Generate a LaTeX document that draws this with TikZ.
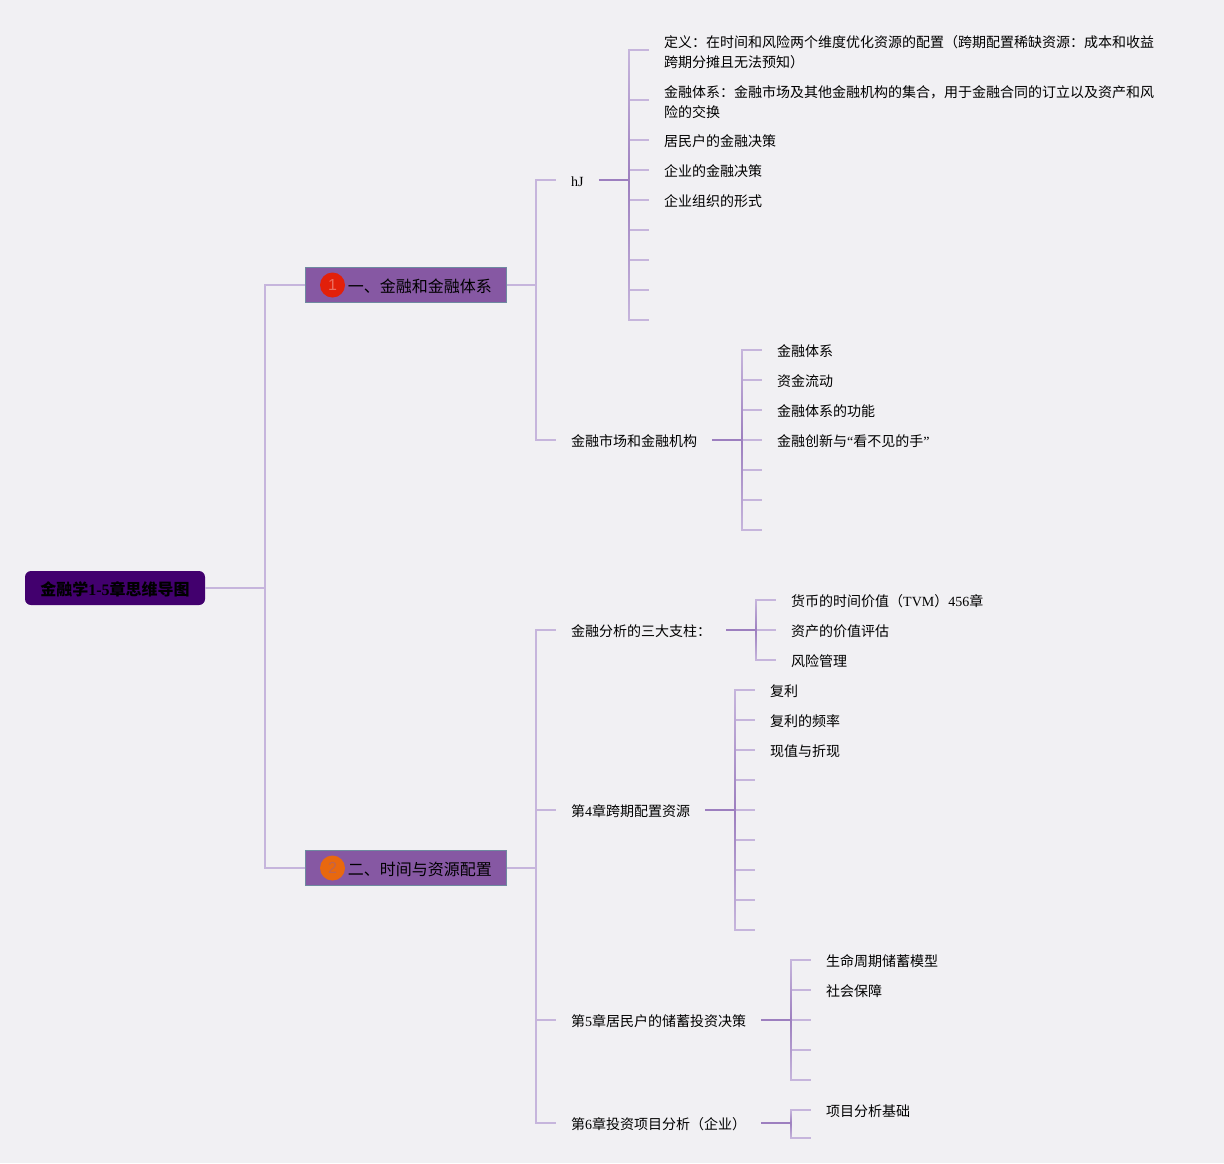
\documentclass[tikz,border=0pt]{standalone}
\usepackage{fontspec}
\setmainfont{Liberation Serif}
\setsansfont{Liberation Sans}
\newfontfamily\cj{Noto Sans CJK SC}
\newcommand{\lt}[1]{{\rmfamily #1}}
\definecolor{pagebg}{HTML}{F1F0F3}
\definecolor{lightline}{HTML}{C6B5DC}
\definecolor{darkline}{HTML}{9D7FBF}
\definecolor{rootfill}{HTML}{42006E}
\definecolor{boxfill}{HTML}{8658A3}
\definecolor{boxedge}{HTML}{6F8AA0}
\usetikzlibrary{calc}
\tikzset{
  x=1pt,y=-1pt,
  conn/.style={draw=lightline,line width=1.4pt},
  stem/.style={draw=darkline,line width=1.4pt},
  txt/.style={anchor=west,inner xsep=15pt,inner ysep=0pt,font=\fontsize{14}{20}\selectfont\cj,align=left,text=black,
    execute at begin node={\rule[-2pt]{0pt}{16pt}}},
  rootbox/.style={anchor=center,fill=rootfill,rounded corners=6pt,minimum width=180pt,minimum height=34pt,inner sep=0pt,font=\fontsize{16}{18}\selectfont\cj\bfseries,
    execute at begin node={\rule[-2pt]{0pt}{19.4pt}}},
  branchbox/.style={anchor=west,fill=boxfill,draw=boxedge,line width=1pt,minimum width=201pt,minimum height=35pt,inner sep=0pt,font=\fontsize{16}{20}\selectfont\cj,
    execute at begin node={\rule[-2pt]{0pt}{19.4pt}}},
  badge/.style={circle,minimum size=25pt,inner sep=0pt,font=\fontsize{16}{16}\selectfont\sffamily},
}
% trunk shading: fades from the stem point towards both ends
\newcommand{\trunk}[3]{%
  \shade[top color=lightline,middle color=darkline!75!lightline,bottom color=darkline] ($(#1|-#2)+(-.7,0)$) rectangle ($(#1)+(.7,0)$);
  \shade[top color=darkline,middle color=darkline!75!lightline,bottom color=lightline] ($(#1)+(-.7,0)$) rectangle ($(#1|-#3)+(.7,0)$);}
\begin{document}
\begin{tikzpicture}
\useasboundingbox (0,0) rectangle (1224,1163);
\fill[pagebg] (0,0) rectangle (1224,1163);

% main nodes
\node[rootbox] (root) at (115,588) {金融学\lt{\bfseries 1-5}章思维导图};
\node[branchbox] (b1) at (305,285) {\hspace{27.5pt}一、金融和金融体系};
\node[branchbox] (b2) at (305,868) {\hspace{27.5pt}二、时间与资源配置};
\node[badge,fill={rgb,255:red,226;green,32;blue,10},text={rgb,255:red,236;green,110;blue,95}] (c1) at (332.5,285) {1};
\node[badge,fill={rgb,255:red,232;green,104;blue,15},text={rgb,255:red,190;green,100;blue,80}] (c2) at (332.5,868) {2};

% second level
\node[txt] (s1) at (556,180) {\lt{hJ}};
\node[txt] (s2) at (556,440) {金融市场和金融机构};
\node[txt] (s3) at (556,630) {金融分析的三大支柱：};
\node[txt] (s4) at (556,810) {第\lt{4}章跨期配置资源};
\node[txt] (s5) at (556,1020) {第\lt{5}章居民户的储蓄投资决策};
\node[txt] (s6) at (556,1123) {第\lt{6}章投资项目分析（企业）};

% leaves of hJ
\node[txt] (a1) at (649,50) {\rule{0pt}{17pt}定义：在时间和风险两个维度优化资源的配置（跨期配置稀缺资源：成本和收益\\跨期分摊且无法预知）};
\node[txt] (a2) at (649,100) {\rule{0pt}{17pt}金融体系：金融市场及其他金融机构的集合，用于金融合同的订立以及资产和风\\险的交换};
\node[txt] (a3) at (649,140) {居民户的金融决策};
\node[txt] (a4) at (649,170) {企业的金融决策};
\node[txt] (a5) at (649,200) {企业组织的形式};
\coordinate (a6) at (649,230);
\coordinate (a7) at (649,260);
\coordinate (a8) at (649,290);
\coordinate (a9) at (649,320);

% leaves of market
\node[txt] (m1) at (762,350) {金融体系};
\node[txt] (m2) at (762,380) {资金流动};
\node[txt] (m3) at (762,410) {金融体系的功能};
\node[txt] (m4) at (762,440) {金融创新与\lt{“}看不见的手\lt{”}};
\coordinate (m5) at (762,470);
\coordinate (m6) at (762,500);
\coordinate (m7) at (762,530);

% leaves of pillars
\node[txt] (p1) at (776,600) {货币的时间价值（\lt{TVM}）\lt{456}章};
\node[txt] (p2) at (776,630) {资产的价值评估};
\node[txt] (p3) at (776,660) {风险管理};

% leaves of ch4
\node[txt] (f1) at (755,690) {复利};
\node[txt] (f2) at (755,720) {复利的频率};
\node[txt] (f3) at (755,750) {现值与折现};
\coordinate (f4) at (755,780);
\coordinate (f5) at (755,810);
\coordinate (f6) at (755,840);
\coordinate (f7) at (755,870);
\coordinate (f8) at (755,900);
\coordinate (f9) at (755,930);

% leaves of ch5
\node[txt] (g1) at (811,960) {生命周期储蓄模型};
\node[txt] (g2) at (811,990) {社会保障};
\coordinate (g3) at (811,1020);
\coordinate (g4) at (811,1050);
\coordinate (g5) at (811,1080);

% leaves of ch6
\node[txt] (h1) at (811,1110) {项目分析基础};
\coordinate (h2) at (811,1138);

% trunk points
\coordinate (t0) at (265,588);
\coordinate (t1) at (536,285);
\coordinate (t2) at (536,868);
\coordinate (ta) at (629,180);
\coordinate (tm) at (742,440);
\coordinate (tp) at (756,630);
\coordinate (tf) at (735,810);
\coordinate (tg) at (791,1020);
\coordinate (th) at (791,1123);

% connectors, level 1 and 2
\foreach \c in {b1,b2} \draw[conn] (t0) |- (\c.west);
\draw[conn] (root.east) -- (t0);
\draw[conn] (b1.east) -- (t1);
\draw[conn] (b2.east) -- (t2);
\foreach \c in {s1,s2} \draw[conn] (t1) |- (\c.west);
\foreach \c in {s3,s4,s5,s6} \draw[conn] (t2) |- (\c.west);

% connectors, leaves
\foreach \c in {a1,a2,a3,a4,a5} \draw[conn] (ta) |- (\c.west);
\foreach \c in {a6,a7,a8,a9} \draw[conn] (ta) |- (\c);
\foreach \c in {m1,m2,m3,m4} \draw[conn] (tm) |- (\c.west);
\foreach \c in {m5,m6,m7} \draw[conn] (tm) |- (\c);
\foreach \c in {p1,p2,p3} \draw[conn] (tp) |- (\c.west);
\foreach \c in {f1,f2,f3} \draw[conn] (tf) |- (\c.west);
\foreach \c in {f4,f5,f6,f7,f8,f9} \draw[conn] (tf) |- (\c);
\foreach \c in {g1,g2} \draw[conn] (tg) |- (\c.west);
\foreach \c in {g3,g4,g5} \draw[conn] (tg) |- (\c);
\draw[conn] (th) |- (h1.west);
\draw[conn] (th) |- (h2);

% darker part around each stem
\trunk{ta}{a1}{a9}
\trunk{tm}{m1}{m7}
\trunk{tp}{p1}{p3}
\trunk{tf}{f1}{f9}
\trunk{tg}{g1}{g5}
\trunk{th}{h1}{h2}
\draw[stem] (s1.east) -- (ta);
\draw[stem] (s2.east) -- (tm);
\draw[stem] (s3.east) -- (tp);
\draw[stem] (s4.east) -- (tf);
\draw[stem] (s5.east) -- (tg);
\draw[stem] (s6.east) -- (th);
\end{tikzpicture}
\end{document}
